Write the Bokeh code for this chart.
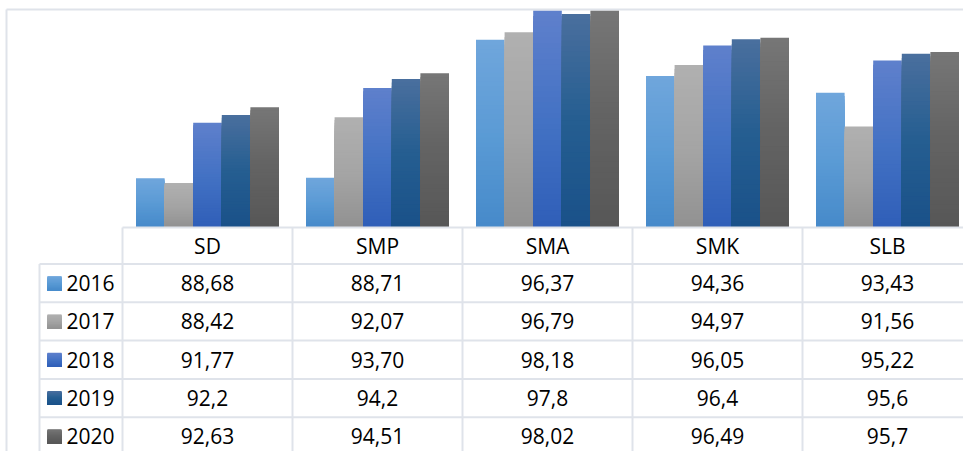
import numpy as np
from bokeh.plotting import figure
from bokeh.models import Range1d
from bokeh.core.properties import value
from bokeh.embed import file_html
from bokeh.resources import INLINE

# ---------------- data ----------------
categories = ["SD", "SMP", "SMA", "SMK", "SLB"]
years = ["2016", "2017", "2018", "2019", "2020"]
v2016 = [88.68, 88.71, 96.37, 94.36, 93.43]
v2017 = [88.42, 92.07, 96.79, 94.97, 91.56]
v2018 = [91.77, 93.70, 98.18, 96.05, 95.22]
v2019 = [92.2, 94.2, 97.8, 96.4, 95.6]
v2020 = [92.63, 94.51, 98.02, 96.49, 95.7]
lab2016 = ["88,68", "88,71", "96,37", "94,36", "93,43"]
lab2017 = ["88,42", "92,07", "96,79", "94,97", "91,56"]
lab2018 = ["91,77", "93,70", "98,18", "96,05", "95,22"]
lab2019 = ["92,2", "94,2", "97,8", "96,4", "95,6"]
lab2020 = ["92,63", "94,51", "98,02", "96,49", "95,7"]
series = [v2016, v2017, v2018, v2019, v2020]
labels = [lab2016, lab2017, lab2018, lab2019, lab2020]

# ---------------- style / layout ----------------
Y_MIN, Y_MAX = 86.0, 98.0
W, H = 963, 451
BASE_PX, TOP_PX = 226.0, 10.0
PX_PER_UNIT = (BASE_PX - TOP_PX) / (Y_MAX - Y_MIN)
COL_LEFT_PX, COL_W_PX = 122.0, 170.0
LEG_LEFT_PX = 39.0
BAR_W = 28.6 / COL_W_PX
HEADER_TOP, HEADER_BOT, ROW_H = 227.0, 263.5, 38.3
GRID = "#dfe3ea"
FONT = "Open Sans"
FS = "21px"
# gradient stops: bottom, middle, top
grads = [
    ("#468aca", "#5b9bd5", "#70a6dc"),
    ("#929292", "#a5a5a5", "#b0b0b0"),
    ("#2f5fb8", "#4472c4", "#5f80cc"),
    ("#1a5189", "#255e91", "#4a6f9e"),
    ("#575757", "#636363", "#767676"),
]


def hex2rgb(h):
    return np.array([int(h[i:i + 2], 16) for i in (1, 3, 5)], dtype=float)


def grad_color(stops, t):
    b, m, tp = (hex2rgb(s) for s in stops)
    if t < 0.5:
        c = b + (m - b) * (t / 0.5)
    else:
        c = m + (tp - m) * ((t - 0.5) / 0.5)
    return "#%02x%02x%02x" % tuple(int(round(x)) for x in c)


def px_to_u(px):
    return (px - COL_LEFT_PX) / COL_W_PX


x_start, x_end = px_to_u(0), px_to_u(W)
y_start = Y_MIN - (H - BASE_PX) / PX_PER_UNIT
y_end = Y_MIN + BASE_PX / PX_PER_UNIT

p = figure(width=W, height=H, output_backend="svg", toolbar_location=None,
           x_range=Range1d(x_start, x_end), y_range=Range1d(y_start, y_end),
           x_axis_location=None, y_axis_location=None, min_border=0)
p.grid.visible = False
p.outline_line_color = None
p.background_fill_color = "white"
p.border_fill_color = "white"
p.extra_y_ranges = {"table": Range1d(H, 0)}

# ---------------- bars (gradient by stacked slices) ----------------
N = 40
L, R, B, T, C = [], [], [], [], []
for j, vals in enumerate(series):
    for i, v in enumerate(vals):
        cx = i + 0.5 + (j - 2) * BAR_W
        top = min(v, Y_MAX)
        for k in range(N, 0, -1):
            L.append(cx - BAR_W / 2)
            R.append(cx + BAR_W / 2)
            B.append(Y_MIN)
            T.append(Y_MIN + (top - Y_MIN) * k / N)
            C.append(grad_color(grads[j], (k - 0.5) / N))
p.quad(left=L, right=R, bottom=B, top=T, fill_color=C, line_color=None)

# ---------------- table grid ----------------
row_bounds = [HEADER_BOT + ROW_H * r for r in range(len(years) + 1)]
u_leg = px_to_u(LEG_LEFT_PX)
xs0, ys0, xs1, ys1 = [], [], [], []
# header top
xs0.append(0); xs1.append(len(categories)); ys0.append(HEADER_TOP); ys1.append(HEADER_TOP)
for yb in row_bounds:
    xs0.append(u_leg); xs1.append(len(categories)); ys0.append(yb); ys1.append(yb)
xs0.append(u_leg); xs1.append(u_leg); ys0.append(HEADER_BOT); ys1.append(H + 5)
for c in range(len(categories) + 1):
    xs0.append(c); xs1.append(c); ys0.append(HEADER_TOP); ys1.append(H + 5)
p.segment(x0=xs0, y0=ys0, x1=xs1, y1=ys1, line_color=GRID, line_width=2,
          y_range_name="table")

# outer chart border
bx = px_to_u(6)
p.segment(x0=[bx, bx], y0=[9, 9], x1=[bx, x_end + 1], y1=[H + 5, 9],
          line_color=GRID, line_width=2, y_range_name="table")

# header labels
p.text(x=[i + 0.5 for i in range(len(categories))], y=[(HEADER_TOP + HEADER_BOT) / 2] * len(categories),
       text=categories, text_align="center", text_baseline="middle",
       text_font=value(FONT), text_font_size=FS, text_color="#000000",
       y_range_name="table")

# values
tx, ty, tt = [], [], []
for j, labs in enumerate(labels):
    ymid = HEADER_BOT + ROW_H * (j + 0.5)
    for i, s in enumerate(labs):
        tx.append(i + 0.5); ty.append(ymid); tt.append(s)
p.text(x=tx, y=ty, text=tt, text_align="center", text_baseline="middle",
       text_font=value(FONT), text_font_size=FS, text_color="#000000",
       y_range_name="table")

# legend keys
SW = 14.0
sl, sr, sb, st, sc = [], [], [], [], []
for j in range(len(years)):
    ymid = HEADER_BOT + ROW_H * (j + 0.5)
    for k in range(N, 0, -1):
        sl.append(px_to_u(47)); sr.append(px_to_u(47 + SW))
        sb.append(ymid + SW / 2); st.append(ymid + SW / 2 - SW * k / N)
        sc.append(grad_color(grads[j], (k - 0.5) / N))
p.quad(left=sl, right=sr, bottom=sb, top=st, fill_color=sc, line_color=None,
       y_range_name="table")
p.text(x=[px_to_u(66)] * len(years),
       y=[HEADER_BOT + ROW_H * (j + 0.5) for j in range(len(years))],
       text=years, text_align="left", text_baseline="middle",
       text_font=value(FONT), text_font_size=FS, text_color="#000000",
       y_range_name="table")

open("out.html", "w").write(file_html(p, INLINE))
